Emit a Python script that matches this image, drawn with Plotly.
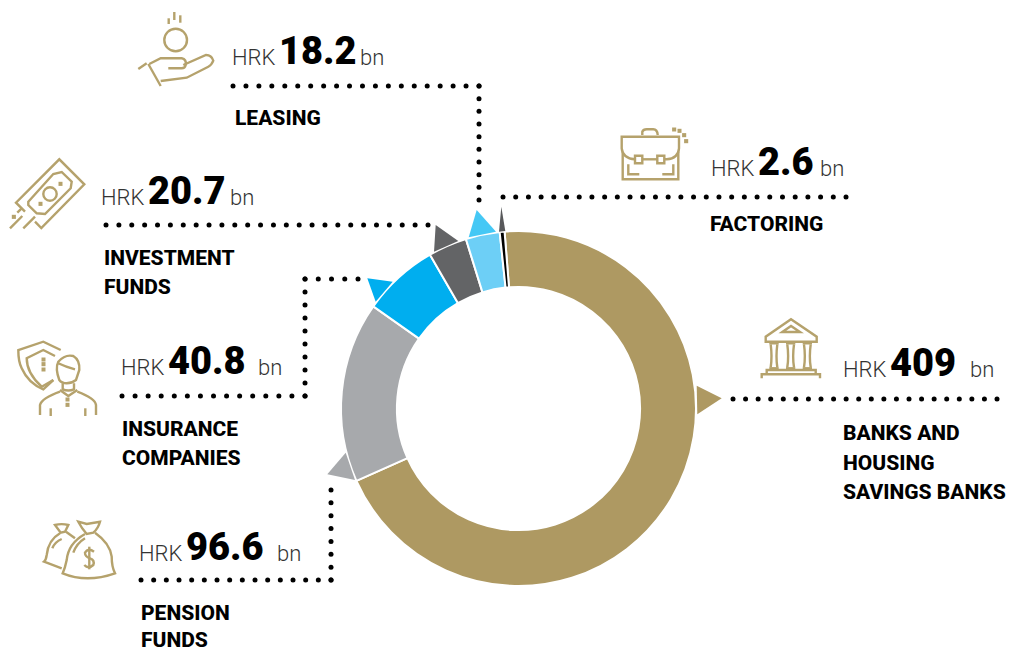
import re
import numpy as np
import plotly.graph_objects as go

categories = ["Banks and housing savings banks", "Pension funds", "Insurance companies",
              "Investment funds", "Leasing", "Factoring"]
values = [409, 96.6, 40.8, 20.7, 18.2, 2.6]
value_labels = ["409", "96.6", "40.8", "20.7", "18.2", "2.6"]
colors = ["#AE9962", "#A7A9AC", "#00AEEF", "#636466", "#6DCFF6", "#000000"]
pointer_colors = ["#AE9962", "#A7A9AC", "#00AEEF", "#636466", "#45C8F5", "#58595B"]

W, H = 1010, 653
CX, CY, R = 518.5, 408.5, 177.5
GOLD = "#B5A26C"

fig = go.Figure()
fig.add_trace(go.Pie(
    labels=categories, values=values, sort=False, direction="clockwise", rotation=-4.5,
    hole=0.685, textinfo="none", hoverinfo="skip", showlegend=False,
    marker=dict(colors=colors, line=dict(color="white", width=2)),
    domain=dict(x=[(CX - R) / W, (CX + R) / W], y=[1 - (CY + R) / H, 1 - (CY - R) / H]),
))

# leader dots
leaders = [
    [(733, 399), (997, 399)],
    [(141, 580), (331, 580), (331, 490)],
    [(122, 396), (305, 396), (305, 279), (358, 279)],
    [(106, 225), (428, 225)],
    [(233, 86), (479, 86), (479, 200)],
    [(503, 197), (846, 197)],
]
dx, dy = [], []
for pts in leaders:
    for (x0, y0), (x1, y1) in zip(pts[:-1], pts[1:]):
        n = max(1, round(np.hypot(x1 - x0, y1 - y0) / 12.65))
        dx += list(np.linspace(x0, x1, n + 1))
        dy += list(np.linspace(y0, y1, n + 1))
fig.add_trace(go.Scatter(x=dx, y=dy, mode="markers", hoverinfo="skip", showlegend=False,
                         marker=dict(color="#000000", size=5, line=dict(width=0))))

# pointers
pointers = [
    [(696.7, 385.7), (721.7, 398.3), (697.3, 414.3)],
    [(345.7, 452.7), (327.3, 474.3), (355, 480)],
    [(367.3, 278.3), (392.7, 281.7), (375.7, 301.7)],
    [(435.7, 225), (458.3, 241), (434, 251.7)],
    [(476.7, 210), (496, 231.7), (468.7, 237.3)],
    [(501.3, 206.7), (505.3, 231), (499, 231.7)],
]
for tri, c in zip(pointers, pointer_colors):
    path = "M" + " L".join(f"{x} {y}" for x, y in tri) + " Z"
    fig.add_shape(type="path", path=path, fillcolor=c, line=dict(width=0), xref="x", yref="y")


def icon(ox, oy, d, width=2.4):
    """d is written in 3x zoom coordinates relative to (ox, oy)."""
    nums = iter(range(10 ** 6))

    def sub(m):
        i = next(nums)
        v = float(m.group())
        return f"{(ox if i % 2 == 0 else oy) + v / 3:.1f}"

    path = re.sub(r"-?\d+(?:\.\d+)?", sub, d)
    fig.add_shape(type="path", path=path, line=dict(color=GOLD, width=width), xref="x", yref="y")


def circle(cx, cy, r):
    k = r * 0.5523
    return (f"M{cx - r} {cy} C{cx - r} {cy - k} {cx - k} {cy - r} {cx} {cy - r} "
            f"C{cx + k} {cy - r} {cx + r} {cy - k} {cx + r} {cy} "
            f"C{cx + r} {cy + k} {cx + k} {cy + r} {cx} {cy + r} "
            f"C{cx - k} {cy + r} {cx - r} {cy + k} {cx - r} {cy} Z")


def dot(x, y):
    return f"M{x - 2} {y - 2} L{x + 3} {y - 2} L{x + 3} {y + 3} L{x - 2} {y + 3} Z"


# hand
for d in [circle(167, 120, 34), "M146 55 L146 72", "M163 36 L163 60", "M181 46 L181 68",
          "M55 207 L80 190", "M85 192 L122 258",
          "M88 192 L122 175 L185 175 Q200 178 197 195 Q195 205 185 205 L145 205",
          "M190 195 L258 165 Q275 165 280 182 Q275 195 265 200 L200 233 L122 243"]:
    icon(120, 0, d)
# money
for d in ["M75 185 L48 158 L178 28 L253 103 L124 234 L105 215",
          "M85 155 L160 72 L185 66 L215 95 L212 115 L135 192 L110 190 L85 165 Z",
          circle(150, 132, 20), dot(181, 101), dot(121, 161), dot(41, 200),
          "M30 235 L67 198", "M70 235 L105 200", "M52 188 L65 175"]:
    icon(0, 150, d)
# insurance
for d in ["M160 150 L130 178 Q85 160 65 115 Q55 95 55 60 L130 35 L182 60",
          "M165 78 L130 60 L80 85 Q80 130 125 170 L160 150",
          dot(130, 88), dot(130, 102), dot(130, 118),
          "M178 150 Q165 115 175 95 Q195 72 220 78 Q240 90 238 120 L228 150 Q215 160 200 160 Q185 160 178 150 Z",
          "M175 100 Q195 110 225 118", "M188 160 L188 178 Q205 185 222 178 L222 160",
          "M180 180 L205 198 L232 180", "M120 255 L120 225 Q125 205 180 185",
          "M232 185 Q285 205 288 225 L288 255", dot(202, 208), dot(202, 224),
          "M152 235 L152 258", "M256 235 L256 258"]:
    icon(0, 330, d)
# money bags
for d in ["M145 35 L170 42 L210 35 Q205 55 190 68 L170 72 Q155 55 145 35 Z",
          "M165 72 Q115 100 110 150 Q105 175 98 190 Q170 220 255 190 Q245 170 245 140 Q240 100 195 68",
          "M130 128 Q140 100 165 85",
          "M192 125 Q175 112 165 128 Q165 140 180 145 Q195 150 190 165 Q175 178 163 165",
          "M178 110 L178 178",
          "M75 45 Q95 40 115 45 L105 65 L92 68 Z", "M90 70 Q55 90 50 135 Q48 150 42 155 L95 175",
          "M108 65 L135 85", "M67 115 Q75 95 95 87"]:
    icon(30, 510, d)
# briefcase
for d in ["M105 133 Q68 130 65 100 L65 65 L237 65 L237 100 Q235 130 200 133 L193 133",
          "M172 133 L127 133", "M68 110 L68 193 L235 193 L235 110",
          "M105 122 L127 122 L127 145 L105 145 Z", "M172 122 L193 122 L193 145 L172 145 Z",
          "M127 60 L127 50 Q130 43 140 43 L160 43 Q172 43 173 60",
          "M85 148 L85 178 L118 178", "M220 148 L220 178 L187 178",
          dot(222, 43), dot(238, 47), dot(252, 60), dot(258, 78)]:
    icon(600, 115, d)
# bank
bank = ["M47 95 L47 80 L123 28 L200 80 L200 95 Z", "M97 66 L123 48 L150 66 Z",
        "M50 195 L50 180 L197 180 L197 195", "M35 205 L35 193 L210 193 L210 205"]
for c in (72, 122, 172):
    bank += [f"M{c - 14} 100 L{c + 14} 100", f"M{c - 14} 175 L{c + 14} 175",
             f"M{c - 10} 103 Q{c - 5} 140 {c - 10} 172", f"M{c + 10} 103 Q{c + 5} 140 {c + 10} 172"]
for d in bank:
    icon(750, 310, d)


def text(x, y, s, size, weight, color="#000000"):
    fig.add_annotation(x=x, y=y, text=s, xref="x", yref="y", xanchor="left", yanchor="middle",
                       showarrow=False, borderpad=0, borderwidth=0,
                       font=dict(family="Roboto", size=size, weight=weight, color=color))


value_pos = [(843, 890, 970, 369), (139, 186, 277, 553), (121, 168, 258, 367),
             (101, 148, 230, 197), (232, 279, 360, 57), (711, 758, 820, 168)]
for (xh, xv, xb, y), lab in zip(value_pos, value_labels):
    text(xh, y, "HRK", 22, 300, "#333333")
    text(xv, y - 6, lab, 38, 900)
    text(xb, y, "bn", 22, 300, "#333333")

name_lines = [("BANKS AND", 843, 433), ("HOUSING", 843, 463), ("SAVINGS BANKS", 843, 492),
              ("PENSION", 141, 613), ("FUNDS", 141, 640),
              ("INSURANCE", 122, 429), ("COMPANIES", 122, 458),
              ("INVESTMENT", 104, 258), ("FUNDS", 104, 287),
              ("LEASING", 235, 118), ("FACTORING", 710, 224)]
for s, x, y in name_lines:
    text(x, y, s, 21, 800)

fig.update_layout(
    width=W, height=H, margin=dict(l=0, r=0, t=0, b=0), autosize=False,
    paper_bgcolor="white", plot_bgcolor="white", showlegend=False,
    xaxis=dict(range=[0, W], visible=False, fixedrange=True),
    yaxis=dict(range=[H, 0], visible=False, fixedrange=True),
)
fig.write_html("out.html", config=dict(displayModeBar=False),
               post_script="document.body.style.margin='0';document.body.style.overflow='hidden';")
